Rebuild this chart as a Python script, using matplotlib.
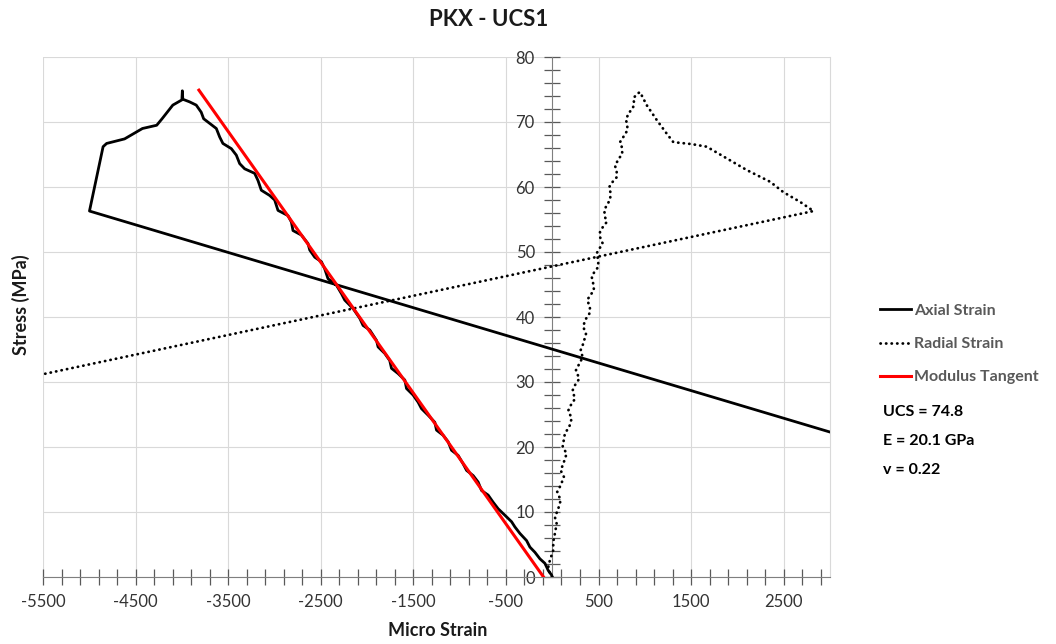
#!/usr/bin/env python3

import matplotlib
matplotlib.use("Agg")
import matplotlib.pyplot as plt
from matplotlib.ticker import MultipleLocator


# ---------------------------------------------------------------------------
# Data
# ---------------------------------------------------------------------------
axial_strain = [
    0, -7, -43, -79, -133, -187, -241, -277, -349, -403, -439, -511, -584,
    -638, -692, -763, -800, -854, -925, -962, -1016, -1088, -1124, -1178,
    -1250, -1268, -1341, -1412, -1449, -1503, -1574, -1592, -1665, -1736,
    -1755, -1809, -1881, -1898, -1971, -2043, -2079, -2151, -2241, -2277,
    -2331, -2422, -2457, -2493, -2565, -2619, -2638, -2709, -2800, -2817,
    -2854, -2962, -2998, -3052, -3142, -3178, -3214, -3322, -3376, -3412,
    -3466, -3557, -3592, -3628, -3701, -3765, -3791, -3845, -3917, -3990,
    -3995, -4000, -4098, -4214, -4272, -4426, -4619, -4813, -4851, -4998,
    3000,
]
axial_stress = [
    0, 0.3, 1.0, 2.1, 2.8, 3.8, 4.6, 5.6, 6.7, 7.7, 8.5, 9.5, 10.5,
    11.5, 12.6, 13.3, 14.6, 15.6, 16.4, 17.4, 18.7, 19.5, 20.8, 21.8,
    22.6, 23.8, 24.9, 25.9, 26.9, 28.0, 29.0, 30.3, 31.3, 32.1,
    33.3, 34.4, 35.4, 36.4, 38.0, 38.7, 39.8, 41.3, 42.6, 43.6,
    44.9, 45.9, 47.4, 48.5, 49.2, 50.3, 51.3, 52.6, 53.3, 54.6,
    55.6, 56.4, 58.0, 58.7, 59.5, 61.0, 62.1, 62.8, 63.6, 64.9,
    65.9, 66.7, 67.7, 69.0, 69.8, 70.5, 71.5, 72.6, 73.1, 73.5,
    74.8, 73.4, 72.6, 70.5, 69.5, 69.0, 67.4, 66.7, 66.2, 56.3,
    22.3,
]

radial_strain = [
    0, -25, -43, -25, 11, 11, 29, 48, 29, 65, 91, 54, 91, 126, 91, 119,
    156, 112, 137, 184, 210, 173, 199, 245, 220, 245, 292, 256, 292, 329,
    307, 335, 364, 335, 354, 400, 408, 378, 408, 451, 443, 426, 454, 497,
    497, 480, 508, 545, 516, 516, 545, 588, 570, 562, 588, 624, 631, 616,
    653, 696, 696, 678, 721, 757, 750, 732, 768, 811, 811, 797, 822, 869,
    886, 876, 912, 948, 1020, 1129, 1237, 1308, 1507, 1669, 1741, 1885,
    2102, 2354, 2497, 2678, 2822, -5500,
]
radial_stress = [
    0, 0.5, 1.5, 2.6, 4.1, 5.4, 6.7, 8.2, 9.2, 10.5, 11.8, 13.1, 14.1, 15.4, 16.4, 17.4,
    19.0, 20.0, 22.1, 23.1, 24.4, 25.6, 26.4, 27.4, 28.7, 29.5, 30.5, 31.8, 32.8, 33.8,
    34.9, 35.9, 37.4, 38.5, 39.5, 40.5, 41.5, 42.6, 43.3, 44.1, 45.1, 46.2, 46.9, 47.7,
    48.7, 49.8, 50.5, 51.3, 52.3, 53.1, 53.8, 54.6, 55.4, 56.4, 57.2, 58.0, 59.0, 60.0,
    60.8, 61.5, 62.3, 63.3, 64.4, 65.1, 66.2, 66.9, 67.7, 68.7, 69.5, 70.3, 71.3, 72.1,
    72.8, 73.6, 74.3, 74.6, 72.6, 70.3, 68.2, 66.9, 66.6, 66.2, 65.6, 64.4,
    62.6, 60.8, 59.2, 57.7, 56.3, 31.2,
]

tangent_strain = [-3816, -94]
tangent_stress = [74.9, 0]

results_lines = ["UCS = 74.8", "E = 20.1 GPa", "v = 0.22"]

TEXT_GREY = "#595959"
TICK_GREY = "#333333"
GRID_GREY = "#d9d9d9"


# ---------------------------------------------------------------------------
# Figure
# ---------------------------------------------------------------------------
plt.rcParams["font.family"] = ["Lato", "DejaVu Sans"]
plt.rcParams["axes.unicode_minus"] = False

W, H = 1056, 644
fig = plt.figure(figsize=(W / 100, H / 100), dpi=100)
ax = fig.add_axes([43 / W, 1 - 577 / H, (830 - 43) / W, (577 - 57) / H])

l_axial, = ax.plot(axial_strain, axial_stress, color="black", lw=2.0,
                   solid_joinstyle="round", label="Axial Strain", zorder=3)
l_radial, = ax.plot(radial_strain, radial_stress, color="black", lw=2.0,
                    linestyle=(0, (0.1, 1.9)), dash_capstyle="round",
                    label="Radial Strain", zorder=3)
l_tan, = ax.plot(tangent_strain, tangent_stress, color="#ff0000", lw=2.2,
                 label="Modulus Tangent", zorder=4)

ax.set_xlim(-5500, 3000)
ax.set_ylim(0, 80)

ax.xaxis.set_major_locator(MultipleLocator(1000, offset=500))
ax.xaxis.set_minor_locator(MultipleLocator(200, offset=100))
ax.yaxis.set_major_locator(MultipleLocator(10))
ax.yaxis.set_minor_locator(MultipleLocator(2))

ax.spines["left"].set_position(("data", 0))
ax.spines["left"].set_color("#7f7f7f")
ax.spines["bottom"].set_color("#7f7f7f")
ax.spines["top"].set_visible(False)
ax.spines["right"].set_color(GRID_GREY)
ax.spines["right"].set_linewidth(0.8)

ax.tick_params(which="both", direction="inout", length=11, width=0.9,
               color="#595959")
ax.tick_params(axis="both", which="major", labelsize=12,
               labelcolor=TICK_GREY, pad=7)

ax.grid(True, which="major", color=GRID_GREY, linewidth=0.8)
ax.set_axisbelow(True)

fig.text(489 / W, 1 - 20 / H, "PKX - UCS1", ha="center", va="center",
         fontsize=16, fontweight="bold", color="#1a1a1a")
fig.text(437.5 / W, 1 - 630 / H, "Micro Strain", ha="center", va="center",
         fontsize=13, fontweight="bold", color="#1a1a1a")
fig.text(21 / W, 1 - 305 / H, "Stress (MPa)", ha="center", va="center",
         rotation=90, fontsize=13, fontweight="bold", color="#1a1a1a")

fig.legend(handles=[l_axial, l_radial, l_tan], loc="center left",
           bbox_to_anchor=(880 / W, 1 - 344 / H), frameon=False,
           prop={"weight": "bold", "size": 11.5}, labelcolor=TEXT_GREY,
           handlelength=1.95, handletextpad=0.2, labelspacing=1.18,
           borderpad=0, borderaxespad=0)

for i, line in enumerate(results_lines):
    fig.text(882.7 / W, 1 - (411.7 + 29 * i) / H, line, ha="left",
             va="center", fontsize=11.5, fontweight="bold", color="black")

fig.savefig("out.png", dpi=100)
